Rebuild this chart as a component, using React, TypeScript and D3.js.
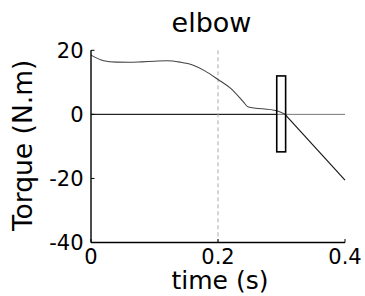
import * as d3 from "d3";

const WIDTH = 365;
const HEIGHT = 296;

// torque trace (time in s, torque in N.m)
const timeValues = [
  0, 0.02, 0.04, 0.06, 0.08, 0.1, 0.12, 0.14, 0.16, 0.18, 0.2, 0.22, 0.24,
  0.247, 0.2925, 0.3055,
];
const torqueValues = [
  18.5, 16.75, 16.3, 16.25, 16.4, 16.6, 16.75, 16.3, 15.4, 13.5, 10.9, 8.1,
  3.9, 2.4, 1.1, 0,
];
const tailTime = [0.3055, 0.4];
const tailTorque = [0, -20.5];

const boxTime = [0.2925, 0.3065];
const boxTorque = [-11.7, 12];
const markerTime = 0.2;

const xTicks = [0, 0.2, 0.4];
const xTickLabels = ["0", "0.2", "0.4"];
const yTicks = [20, 0, -20, -40];
const yTickLabels = ["20", "0", "-20", "-40"];

const FONT = "DejaVu Sans";

export default function App() {
  const left = 91;
  const right = 345;
  const top = 50.3;
  const bottom = 242.5;

  const x = d3.scaleLinear().domain([0, 0.4]).range([left, right]);
  const y = d3.scaleLinear().domain([-40, 20]).range([bottom, top]);

  const line = d3
    .line<number>()
    .x((_, i) => x(timeValues[i]))
    .y((d) => y(d))
    .curve(d3.curveMonotoneX);

  const tail = d3
    .line<number>()
    .x((_, i) => x(tailTime[i]))
    .y((d) => y(d));

  const cx = (left + right) / 2;

  return (
    <svg
      width={WIDTH}
      height={HEIGHT}
      style={{ position: "absolute", left: 0, top: 0, background: "white" }}
      fontFamily={FONT}
    >
      {/* zero line */}
      <line
        x1={x(0)}
        x2={x(0.4)}
        y1={y(0)}
        y2={y(0)}
        stroke="#777"
        strokeWidth={1}
      />
      <line
        x1={x(0)}
        x2={x(boxTime[0])}
        y1={y(0)}
        y2={y(0)}
        stroke="#111"
        strokeWidth={1}
      />
      {/* dashed marker */}
      <line
        x1={x(markerTime)}
        x2={x(markerTime)}
        y1={y(20)}
        y2={y(-40)}
        stroke="#aaa"
        strokeWidth={1}
        strokeDasharray="4,3"
      />
      <path
        d={line(torqueValues) ?? ""}
        fill="none"
        stroke="#444"
        strokeWidth={1.1}
      />
      <path
        d={tail(tailTorque) ?? ""}
        fill="none"
        stroke="#111"
        strokeWidth={1.1}
      />
      <rect
        x={x(boxTime[0])}
        y={y(boxTorque[1])}
        width={x(boxTime[1]) - x(boxTime[0])}
        height={y(boxTorque[0]) - y(boxTorque[1])}
        fill="none"
        stroke="#000"
        strokeWidth={1.6}
      />
      {/* spines */}
      <line x1={left} x2={left} y1={top} y2={bottom} stroke="#000" strokeWidth={1.4} />
      <line x1={left} x2={right} y1={bottom} y2={bottom} stroke="#000" strokeWidth={1.4} />
      {yTicks.map((t, i) => (
        <g key={`y-${t}`}>
          <line x1={left} x2={left + 3.5} y1={y(t)} y2={y(t)} stroke="#000" strokeWidth={1} />
          <text
            x={83.5}
            y={y(t)}
            dy="0.36em"
            textAnchor="end"
            fontSize={21}
            fill="#000"
          >
            {yTickLabels[i]}
          </text>
        </g>
      ))}
      {xTicks.map((t, i) => (
        <g key={`x-${t}`}>
          <line x1={x(t)} x2={x(t)} y1={bottom} y2={bottom - 3.5} stroke="#000" strokeWidth={1} />
          <text
            x={x(t)}
            y={264}
            textAnchor="middle"
            fontSize={21}
            fill="#000"
          >
            {xTickLabels[i]}
          </text>
        </g>
      ))}
      <text x={211.5} y={31.5} textAnchor="middle" fontSize={27} fill="#000">
        elbow
      </text>
      <text x={cx + 2} y={288.5} textAnchor="middle" fontSize={25} fill="#000">
        time (s)
      </text>
      <text
        transform={`translate(32,${(top + bottom) / 2 - 1}) rotate(-90)`}
        textAnchor="middle"
        fontSize={26.5}
        fill="#000"
      >
        Torque (N.m)
      </text>
    </svg>
  );
}
